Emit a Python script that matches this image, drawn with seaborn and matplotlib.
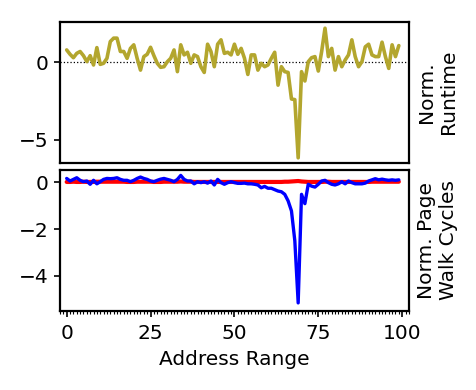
import numpy as np
import pandas as pd
import matplotlib
matplotlib.use("Agg")
import matplotlib.pyplot as plt
import seaborn as sns
from matplotlib.ticker import MultipleLocator

# valores (indice 0..99)
runtime = [0.8, 0.52, 0.3, 0.58, 0.7, 0.43, 0.05, 0.43, -0.17, 0.95,
           -0.13, -0.06, 0.26, 1.34, 1.56, 1.56, 0.7, 0.7, 0.26, 0.9,
           1.13, 0.26, -0.5, 0.37, 0.52, 0.97, 0.43, -0.06, -0.32, -0.28,
           0.04, 0.26, 0.8, -0.6, 1.13, 0.48, 0.65, -0.06, 0.48, 0.37,
           -0.28, -0.65, 1.17, 0.7, -0.28, 1.17, 1.45, 0.58, 0.65, 0.48,
           1.17, 0.52, 0.9, 0.26, -0.78, 0.48, 0.48, -0.5, -0.06, -0.28,
           -0.17, 0.26, 0.65, -1.47, -0.28, -0.6, -0.65, -2.36, -2.4, -6.15,
           -0.6, -1.2, 0.04, 0.3, 0.37, -0.56, 0.7, 2.2, 0.37, 0.9,
           -0.5, 0.37, -0.28, 0.15, 0.48, 1.45, 0.37, -0.28, 0.04, 1.0,
           1.17, 0.48, 0.37, 0.37, 1.3, 0.37, -0.39, 1.13, 0.37, 1.08]

walk_blue = [0.17, 0.06, 0.13, 0.2, 0.09, 0.03, 0.06, -0.08, 0.09, -0.06,
             0.03, 0.13, 0.17, 0.16, 0.17, 0.2, 0.13, 0.09, 0.09, 0.03,
             0.09, 0.17, 0.23, 0.17, 0.13, 0.06, 0.03, 0.09, 0.14, 0.17,
             0.13, 0.09, 0.03, 0.13, 0.3, 0.13, 0.06, 0.06, -0.06, 0.03,
             -0.01, 0.03, -0.03, 0.06, -0.11, 0.13, -0.01, -0.08, -0.01, 0.03,
             -0.01, -0.04, -0.04, -0.03, -0.06, -0.06, -0.08, -0.11, -0.23, -0.17,
             -0.25, -0.25, -0.31, -0.37, -0.4, -0.51, -0.79, -1.22, -2.5, -5.16,
             -0.51, -0.91, -0.08, -0.16, -0.2, -0.08, 0.06, 0.09, -0.01, -0.08,
             -0.11, -0.06, 0.03, -0.06, 0.06, -0.01, -0.06, -0.06, -0.06, -0.03,
             0.06, 0.11, 0.16, 0.11, 0.14, 0.11, 0.09, 0.11, 0.09, 0.11]

walk_red = [0.02, 0.02, 0.03, 0.02, 0.02, 0.03, 0.02, 0.02, 0.02, 0.03,
            0.03, 0.03, 0.03, 0.03, 0.03, 0.03, 0.03, 0.03, 0.02, 0.02,
            0.02, 0.03, 0.03, 0.03, 0.03, 0.03, 0.02, 0.02, 0.02, 0.03,
            0.03, 0.03, 0.03, 0.03, 0.04, 0.03, 0.03, 0.03, 0.02, 0.02,
            0.02, 0.02, 0.02, 0.02, 0.02, 0.02, 0.02, 0.02, 0.02, 0.02,
            0.02, 0.02, 0.02, 0.02, 0.02, 0.02, 0.02, 0.02, 0.02, 0.02,
            0.02, 0.02, 0.02, 0.02, 0.02, 0.03, 0.03, 0.04, 0.05, 0.06,
            0.04, 0.03, 0.02, 0.02, 0.02, 0.02, 0.02, 0.03, 0.03, 0.02,
            0.02, 0.02, 0.02, 0.02, 0.02, 0.02, 0.02, 0.02, 0.02, 0.02,
            0.02, 0.03, 0.03, 0.03, 0.03, 0.03, 0.03, 0.03, 0.03, 0.03]

enderecos = list(range(len(runtime)))

df = pd.DataFrame({"endereco": enderecos, "runtime": runtime,
                   "azul": walk_blue, "vermelho": walk_red})

sns.set_style("ticks")
plt.rcParams["font.family"] = ["DejaVu Sans"]
plt.rcParams["axes.linewidth"] = 1.6
# tudo em preto, como no original
for chave in ["text.color", "axes.labelcolor", "xtick.color", "ytick.color", "axes.edgecolor"]:
    plt.rcParams[chave] = "black"

TAM = 14.5

fig = plt.figure(figsize=(4.76, 3.90), dpi=100)
ax1 = fig.add_axes([0.126, 0.583, 0.733, 0.361])
ax2 = fig.add_axes([0.126, 0.203, 0.733, 0.361])

# painel de cima: runtime normalizado
ax1.axhline(0, color="black", linestyle=":", linewidth=0.9)
sns.lineplot(data=df, x="endereco", y="runtime", ax=ax1, color="#b3a62e", linewidth=2.6)
ax1.set_xlim(-2, 102)
ax1.set_ylim(-6.46, 2.61)
ax1.set_yticks([0, -5])
ax1.set_xticks([])
ax1.set_xlabel("")
ax1.set_ylabel("Norm.\nRuntime", fontsize=TAM, labelpad=6)
ax1.yaxis.set_label_position("right")

# painel de baixo: page walk cycles
sns.lineplot(data=df, x="endereco", y="vermelho", ax=ax2, color="red", linewidth=3.0)
sns.lineplot(data=df, x="endereco", y="azul", ax=ax2, color="blue", linewidth=2.4)
ax2.set_xlim(-2, 102)
ax2.set_ylim(-5.5, 0.53)
ax2.set_yticks([0, -2, -4])
ax2.set_xticks([0, 25, 50, 75, 100])
ax2.xaxis.set_minor_locator(MultipleLocator(1))
ax2.set_xlabel("Address Range", fontsize=TAM, labelpad=5)
ax2.set_ylabel("Norm. Page\nWalk Cycles", fontsize=TAM, labelpad=6)
ax2.yaxis.set_label_position("right")

for ax in (ax1, ax2):
    ax.tick_params(axis="both", which="major", labelsize=TAM, length=4.5, width=1.2)
    ax.tick_params(axis="x", which="major", pad=5)
    ax.tick_params(axis="x", which="minor", length=2, width=0.8)
    for s in ax.spines.values():
        s.set_visible(True)

fig.savefig("out.png", dpi=100)
